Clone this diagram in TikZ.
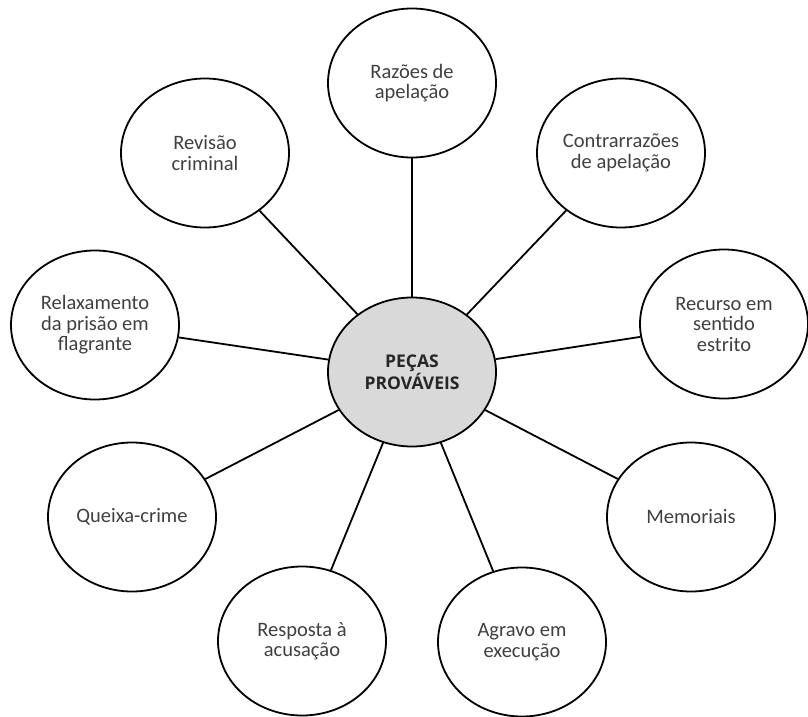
\documentclass[tikz,border=0pt]{standalone}
\usepackage{fontspec}
\setmainfont{Carlito}
\newfontfamily\centerfont{Open Sans}
\usetikzlibrary{shapes.geometric}
\definecolor{txtgray}{HTML}{404040}
\definecolor{hubfill}{HTML}{D9D9D9}
\tikzset{
  leaf/.style={ellipse, draw=black, line width=1.8pt, fill=white,
    minimum width=168pt, minimum height=149pt, inner sep=0pt,
    align=center, text=txtgray,
    font=\fontsize{20.5}{20.5}\selectfont},
  hub/.style={ellipse, draw=black, line width=1.8pt, fill=hubfill,
    minimum width=168pt, minimum height=149pt, inner sep=0pt,
    align=center, text=black!85,
    font=\centerfont\bfseries\fontsize{17.5}{20}\selectfont},
  spoke/.style={line width=1.8pt, draw=black}
}
\begin{document}
\begin{tikzpicture}[x=1pt,y=-1pt]
\useasboundingbox (0,0) rectangle (808,717);
\node[hub]  (c)   at (412,372) {PEÇAS\\PROVÁVEIS};
\node[leaf] (raz) at (412,83)  {Razões de\\apelação};
\node[leaf] (rev) at (205,153) {Revisão\\criminal};
\node[leaf] (con) at (621,153) {Contrarrazões\\de apelação};
\node[leaf] (rel) at (95,325)  {Relaxamento\\da prisão em\\flagrante};
\node[leaf] (rec) at (724,324) {Recurso em\\sentido\\estrito};
\node[leaf] (que) at (132,517) {Queixa-crime};
\node[leaf] (mem) at (691,517) {Memoriais};
\node[leaf] (res) at (302,641) {Resposta à\\acusação};
\node[leaf] (agr) at (522,642) {Agravo em\\execução};
\foreach \n in {raz,rev,con,rel,rec,que,mem,res,agr}
  \draw[spoke] (c) -- (\n);
\end{tikzpicture}
\end{document}
